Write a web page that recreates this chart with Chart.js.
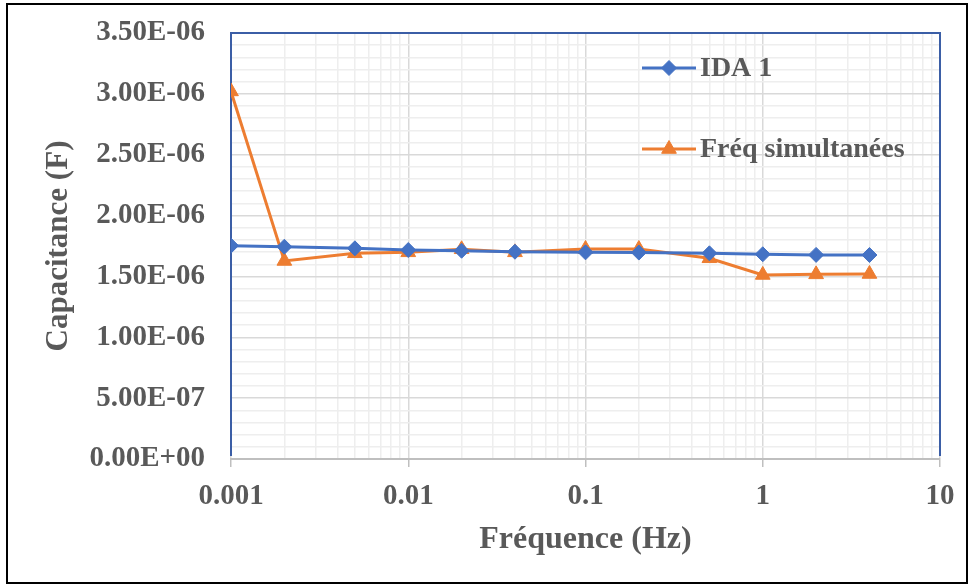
<!DOCTYPE html>
<html><head><meta charset="utf-8">
<script src="https://cdn.jsdelivr.net/npm/chart.js@4.4.1/dist/chart.umd.min.js"></script>
<style>html,body{margin:0;padding:0;background:#fff}#wrap{width:974px;height:586px;position:relative}</style>
</head><body><div id="wrap"><canvas id="c" width="974" height="586"></canvas></div>
<script>
// ---- data ----
const frequencies = [0.001, 0.002, 0.005, 0.01, 0.02, 0.04, 0.1, 0.2, 0.5, 1, 2, 4];
const ida1 = [1.753e-6, 1.744e-6, 1.731e-6, 1.717e-6, 1.711e-6, 1.703e-6, 1.698e-6, 1.696e-6, 1.690e-6, 1.682e-6, 1.677e-6, 1.676e-6];
const freqSimult = [3.02e-6, 1.627e-6, 1.690e-6, 1.698e-6, 1.723e-6, 1.698e-6, 1.725e-6, 1.725e-6, 1.649e-6, 1.512e-6, 1.517e-6, 1.520e-6];
const seriesNames = ['IDA 1', 'Fréq simultanées'];
const xTickLabels = ['0.001', '0.01', '0.1', '1', '10'];
const yTickLabels = ['0.00E+00', '5.00E-07', '1.00E-06', '1.50E-06', '2.00E-06', '2.50E-06', '3.00E-06', '3.50E-06'];
const xAxisTitle = 'Fréquence (Hz)';
const yAxisTitle = 'Capacitance (F)';

const TEXT = '#595959';
const FONT = 'Liberation Serif';
const BLUE = '#4472C4';
const ORANGE = '#ED7D31';

function isPow10(v) { const l = Math.log10(v); return Math.abs(l - Math.round(l)) < 1e-9; }
function isMajorY(v) { return Math.round(v / 1e-7) % 5 === 0; }

const bordersPlugin = {
  id: 'borders',
  beforeDatasetsDraw(chart) {
    const {ctx, chartArea: a} = chart;
    ctx.save();
    ctx.strokeStyle = '#3b5ea6';
    ctx.lineWidth = 2;
    ctx.beginPath();
    ctx.moveTo(a.left, a.bottom - 3);
    ctx.lineTo(a.left, a.top);
    ctx.lineTo(a.right, a.top);
    ctx.lineTo(a.right, a.bottom - 3);
    ctx.stroke();
    ctx.restore();
  },
  afterDraw(chart) {
    const ctx = chart.ctx;
    ctx.save();
    ctx.strokeStyle = '#000';
    ctx.lineWidth = 2;
    ctx.strokeRect(7, 4, 960, 579);
    ctx.restore();
  }
};

const legendPlugin = {
  id: 'customLegend',
  afterDatasetsDraw(chart) {
    const ctx = chart.ctx;
    const ys = [68, 149];
    chart.data.datasets.forEach((ds, i) => {
      const y = ys[i];
      ctx.save();
      ctx.strokeStyle = ds.borderColor;
      ctx.lineWidth = ds.borderWidth;
      ctx.beginPath();
      ctx.moveTo(642, y);
      ctx.lineTo(696, y);
      ctx.stroke();
      ctx.fillStyle = ds.pointBackgroundColor;
      ctx.strokeStyle = ds.pointBorderColor;
      ctx.lineWidth = 1;
      Chart.helpers.drawPoint(ctx, {pointStyle: ds.pointStyle, radius: ds.pointRadius, borderWidth: 1, rotation: 0}, 669, y);
      ctx.fillStyle = TEXT;
      ctx.font = 'bold 28px "' + FONT + '"';
      ctx.textBaseline = 'middle';
      ctx.textAlign = 'left';
      ctx.fillText(ds.label, 700, y + 1);
      ctx.restore();
    });
  }
};

const xTickValues = [];
for (let e = -3; e <= 0; e++) for (let s = 1; s <= 9; s++) xTickValues.push(s * Math.pow(10, e));
xTickValues.push(10);
const yTickValues = [];
for (let i = 0; i <= 35; i++) yTickValues.push(i * 1e-7);

function zeroPad(s) { s.paddingTop = 0; s.paddingBottom = 0; s.paddingLeft = 0; s.paddingRight = 0; }

new Chart(document.getElementById('c'), {
  type: 'line',
  data: {
    datasets: [
      {
        label: seriesNames[0],
        data: frequencies.map((f, i) => ({x: f, y: ida1[i]})),
        borderColor: BLUE, backgroundColor: BLUE,
        pointBackgroundColor: BLUE, pointBorderColor: BLUE,
        borderWidth: 3, pointStyle: 'rectRot', pointRadius: 7.5, pointBorderWidth: 1,
        tension: 0, fill: false
      },
      {
        label: seriesNames[1],
        data: frequencies.map((f, i) => ({x: f, y: freqSimult[i]})),
        borderColor: ORANGE, backgroundColor: ORANGE,
        pointBackgroundColor: ORANGE, pointBorderColor: ORANGE,
        borderWidth: 3, pointStyle: 'triangle', pointRadius: 8.5, pointBorderWidth: 1,
        tension: 0, fill: false
      }
    ]
  },
  options: {
    responsive: false,
    animation: false,
    devicePixelRatio: 1,
    layout: {padding: {left: 0, top: 33, right: 34, bottom: 0}},
    plugins: {legend: {display: false}, tooltip: {enabled: false}},
    scales: {
      x: {
        type: 'logarithmic',
        min: 0.001, max: 10,
        afterBuildTicks: (s) => { s.ticks = xTickValues.map(v => ({value: v})); },
        afterFit: (s) => { s.height = 127; zeroPad(s); },
        border: {display: true, color: '#bfbfbf', width: 2},
        grid: {
          color: (c) => isPow10(c.tick.value) ? '#d9d9d9' : '#eeeeee',
          lineWidth: 1.5,
          drawTicks: true,
          tickLength: 8,
          tickWidth: 1.5,
          tickColor: (c) => isPow10(c.tick.value) ? '#bfbfbf' : 'rgba(0,0,0,0)'
        },
        ticks: {
          autoSkip: false, maxRotation: 0, minRotation: 0,
          padding: 12,
          color: TEXT,
          font: {family: FONT, size: 29, weight: 'bold'},
          callback: (v) => isPow10(v) ? xTickLabels[Math.round(Math.log10(v)) + 3] : ''
        },
        title: {
          display: true, text: xAxisTitle, color: TEXT,
          font: {family: FONT, size: 32, weight: 'bold'},
          padding: {top: 0, bottom: 27}
        }
      },
      y: {
        type: 'linear',
        min: 0, max: 3.5e-6,
        afterBuildTicks: (s) => { s.ticks = yTickValues.map(v => ({value: v})); },
        afterFit: (s) => { s.width = 231; zeroPad(s); },
        border: {display: false},
        grid: {
          color: (c) => isMajorY(c.tick.value) ? '#d9d9d9' : '#eeeeee',
          lineWidth: 1.5,
          drawTicks: false
        },
        ticks: {
          autoSkip: false,
          padding: 26,
          color: TEXT,
          font: {family: FONT, size: 29, weight: 'bold'},
          callback: (v) => isMajorY(v) ? yTickLabels[Math.round(v / 1e-7) / 5] : ''
        },
        title: {
          display: true, text: yAxisTitle, color: TEXT,
          font: {family: FONT, size: 31, weight: 'bold'},
          padding: {top: 40, bottom: 0}
        }
      }
    }
  },
  plugins: [bordersPlugin, legendPlugin]
});
</script>
</body></html>
